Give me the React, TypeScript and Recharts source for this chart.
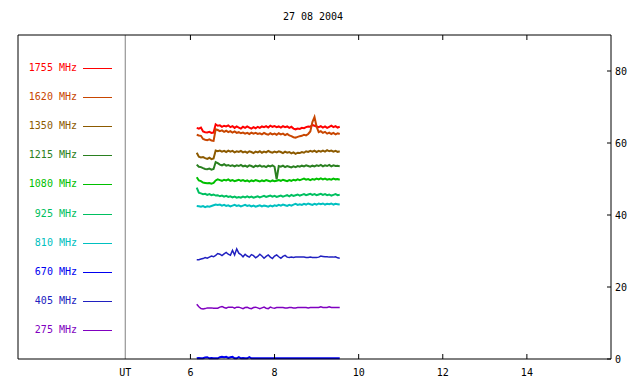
import React from "react";
import {
  LineChart,
  Line,
  XAxis,
  YAxis,
  ReferenceLine,
} from "recharts";

// UT hours of the samples
const times = [
  6.15, 6.2, 6.25, 6.3, 6.35, 6.4, 6.45, 6.5, 6.55, 6.6,
  6.65, 6.7, 6.75, 6.8, 6.85, 6.9, 6.95, 7.0, 7.05, 7.1,
  7.15, 7.2, 7.25, 7.3, 7.35, 7.4, 7.45, 7.5, 7.55, 7.6,
  7.65, 7.7, 7.75, 7.8, 7.85, 7.9, 7.95, 8.0, 8.05, 8.1,
  8.15, 8.2, 8.25, 8.3, 8.35, 8.4, 8.45, 8.5, 8.55, 8.6,
  8.65, 8.7, 8.75, 8.8, 8.85, 8.9, 8.95, 9.0, 9.05, 9.1,
  9.15, 9.2, 9.25, 9.3, 9.35, 9.4, 9.45, 9.5, 9.55,
];

const f1755 = [
  64.2, 64.0, 64.3, 63.2, 63.0, 62.9, 63.1, 62.8, 62.9, 65.2,
  64.8, 64.9, 64.5, 64.8, 64.6, 64.9, 64.4, 64.7, 64.2, 64.6,
  64.3, 64.0, 64.5, 64.2, 64.6, 64.3, 64.0, 64.4, 64.1, 64.5,
  64.2, 64.6, 64.4, 64.7, 64.3, 64.8, 64.5, 64.7, 64.4, 64.6,
  64.3, 64.7, 64.4, 64.6, 64.2, 64.5, 64.0, 63.8, 64.0, 63.9,
  64.2, 64.1, 64.4, 64.6, 64.5, 65.0, 64.8, 64.6, 64.4, 64.7,
  64.3, 64.6, 64.2, 64.5, 64.8, 64.4, 64.7, 64.3, 64.5,
];
const f1620 = [
  62.3, 62.1, 62.0, 61.1, 60.9, 60.8, 61.0, 60.7, 60.6, 63.8,
  63.6, 63.3, 63.5, 63.1, 63.4, 63.0, 63.3, 62.9, 63.2, 62.8,
  63.0, 62.7, 62.9, 62.6, 62.8, 62.5, 62.9, 62.6, 62.8, 62.5,
  62.7, 62.4, 62.8, 62.5, 62.3, 62.7, 62.4, 62.6, 62.3, 62.7,
  62.4, 62.6, 62.2, 62.5, 62.1, 61.9, 61.6, 61.5, 61.7, 61.9,
  62.0, 62.3, 62.1, 62.5, 63.2, 65.8, 67.2, 64.5, 63.0, 63.3,
  62.8, 63.1, 62.6, 62.9, 62.5, 62.8, 62.4, 62.7, 62.5,
];
const f1350 = [
  57.3, 56.2, 56.0, 56.1, 55.8, 55.6, 55.9, 55.5, 55.7, 57.9,
  57.7, 57.9, 57.6, 57.8, 57.5, 57.9, 57.6, 57.8, 57.4, 57.7,
  57.5, 57.8, 57.4, 57.6, 57.3, 57.7, 57.5, 57.2, 57.6, 57.4,
  57.7, 57.3, 57.6, 57.4, 57.8, 57.5, 57.3, 57.6, 57.4, 57.7,
  57.5, 57.2, 57.6, 57.3, 57.5, 57.1, 57.4, 57.0, 57.3, 57.2,
  57.5, 57.3, 57.7, 57.5, 57.8, 57.6, 57.9, 57.5, 57.8, 57.6,
  57.9, 57.6, 58.0, 57.7, 57.9, 57.6, 57.8, 57.5, 57.7,
];
const f1215 = [
  54.0, 53.4, 53.3, 53.0, 52.8, 52.7, 52.9, 52.6, 52.8, 54.7,
  54.4, 54.0, 53.8, 54.1, 53.7, 53.9, 53.6, 53.8, 53.5, 53.8,
  53.6, 53.9, 53.5, 53.7, 53.4, 53.8, 53.6, 53.3, 53.7, 53.5,
  53.8, 53.4, 53.6, 53.3, 53.7, 53.5, 53.8, 53.4, 49.9, 53.6,
  53.4, 53.7, 53.3, 53.6, 53.4, 53.2, 53.5, 53.3, 53.6, 53.4,
  53.7, 53.5, 53.8, 53.6, 53.4, 53.7, 53.5, 53.8, 53.6, 53.9,
  53.5, 53.8, 53.6, 53.9, 53.5, 53.8, 53.6, 53.7, 53.5,
];
const f1080 = [
  50.5, 49.6, 49.4, 49.0, 48.9, 48.8, 48.9, 48.7, 48.9, 49.6,
  49.9, 49.7, 49.5, 49.8, 49.6, 49.9, 49.5, 49.7, 49.4, 49.6,
  49.8, 49.5, 49.7, 49.4, 49.6, 49.3, 49.6, 49.4, 49.7, 49.5,
  49.3, 49.6, 49.4, 49.7, 49.5, 49.3, 49.6, 49.4, 49.5, 49.7,
  49.5, 49.8, 49.6, 49.4, 49.7, 49.5, 49.8, 49.6, 49.9, 49.7,
  49.9, 50.1, 49.8, 50.0, 49.7, 50.0, 49.8, 50.1, 49.9, 50.2,
  49.9, 50.1, 49.8, 50.0, 49.8, 50.1, 49.9, 50.0, 49.8,
];
const f925 = [
  47.6, 46.2, 46.0, 45.8, 45.9, 45.6, 45.8, 45.5, 45.7, 45.4,
  45.5, 45.2, 45.4, 45.1, 45.3, 45.0, 45.2, 44.9, 45.1, 44.8,
  45.0, 44.8, 45.1, 44.9, 45.2, 44.9, 45.1, 44.8, 45.0, 45.2,
  44.9, 45.1, 45.3, 45.0, 45.2, 45.4, 45.1, 45.3, 45.0, 45.2,
  45.4, 45.1, 45.3, 45.5, 45.2, 45.6, 45.3, 45.5, 45.7, 45.4,
  45.6, 45.8, 45.5, 45.7, 45.9, 45.6, 45.8, 45.5, 45.7, 45.9,
  45.6, 45.8, 45.5, 45.7, 45.4, 45.6, 45.8, 45.5, 45.6,
];
const f810 = [
  42.5, 42.4, 42.3, 42.5, 42.2, 42.4, 42.3, 42.5, 42.7, 42.9,
  42.8, 42.9, 42.6, 42.8, 42.5, 42.7, 42.4, 42.6, 42.8, 42.5,
  42.7, 42.4, 42.6, 42.8, 42.5, 42.7, 42.4, 42.6, 42.3, 42.5,
  42.7, 42.4, 42.6, 42.5, 42.3, 42.6, 42.4, 42.7, 42.5, 42.8,
  42.6, 42.9, 42.7, 42.5, 42.8, 42.6, 42.9, 43.1, 42.8, 43.0,
  42.8, 43.1, 42.9, 43.2, 43.0, 42.8, 43.1, 42.9, 43.2, 43.0,
  43.2, 42.9, 43.1, 43.0, 43.2, 42.9, 43.1, 43.0, 42.9,
];
const f670 = [
  0.2, 0.3, 0.2, 0.2, 0.4, 0.5, 0.2, 0.3, 0.2, 0.2,
  0.2, 0.5, 0.6, 0.5, 0.6, 0.3, 0.5, 0.6, 0.2, 0.2,
  0.5, 0.2, 0.3, 0.2, 0.2, 0.5, 0.2, 0.2, 0.2, 0.2,
  0.2, 0.2, 0.2, 0.2, 0.2, 0.2, 0.2, 0.2, 0.2, 0.2,
  0.2, 0.2, 0.2, 0.2, 0.2, 0.2, 0.2, 0.2, 0.2, 0.2,
  0.2, 0.2, 0.2, 0.2, 0.2, 0.2, 0.2, 0.2, 0.2, 0.2,
  0.2, 0.2, 0.2, 0.2, 0.2, 0.2, 0.2, 0.2, 0.2,
];
const f405 = [
  27.6, 27.6, 27.8, 27.9, 28.2, 28.0, 28.3, 28.6, 28.4, 28.8,
  29.3, 29.1, 28.7, 29.2, 29.6, 29.1, 28.8, 30.2, 28.9, 30.6,
  29.4, 29.0, 28.4, 29.1, 28.6, 28.3, 29.0, 28.7, 28.1, 28.5,
  29.1, 28.6, 28.0, 28.5, 28.9, 28.3, 27.9, 28.6, 28.9, 28.4,
  28.0, 28.5, 28.8, 28.3, 28.2, 28.3, 28.2, 28.3, 28.3, 28.3,
  28.3, 28.3, 28.2, 28.2, 28.3, 28.2, 28.2, 28.2, 28.3, 28.6,
  28.5, 28.4, 28.4, 28.3, 28.3, 28.3, 28.4, 28.1, 28.0,
];
const f275 = [
  15.2, 14.5, 14.0, 13.9, 14.0, 14.2, 14.2, 14.2, 14.1, 14.1,
  14.1, 14.4, 14.6, 14.3, 14.1, 14.4, 14.4, 14.4, 14.1, 14.4,
  14.4, 14.2, 14.0, 14.3, 14.4, 14.1, 14.0, 14.3, 14.4, 14.2,
  14.0, 14.2, 14.4, 14.1, 14.0, 14.4, 14.2, 14.1, 14.3, 14.3,
  14.3, 14.3, 14.2, 14.2, 14.3, 14.3, 14.2, 14.2, 14.3, 14.3,
  14.3, 14.3, 14.3, 14.2, 14.3, 14.3, 14.3, 14.3, 14.3, 14.5,
  14.3, 14.3, 14.3, 14.5, 14.3, 14.3, 14.3, 14.3, 14.3,
];

const bands = [
  { key: "f1755", label: "1755 MHz", color: "#ff0000", values: f1755, width: 2 },
  { key: "f1620", label: "1620 MHz", color: "#c84600", values: f1620, width: 2 },
  { key: "f1350", label: "1350 MHz", color: "#8c5a00", values: f1350, width: 2 },
  { key: "f1215", label: "1215 MHz", color: "#2a8020", values: f1215, width: 2 },
  { key: "f1080", label: "1080 MHz", color: "#00c000", values: f1080, width: 2 },
  { key: "f925", label: "925 MHz", color: "#00c060", values: f925, width: 2 },
  { key: "f810", label: "810 MHz", color: "#00c0c0", values: f810, width: 2 },
  { key: "f670", label: "670 MHz", color: "#0000f0", values: f670, width: 2 },
  { key: "f405", label: "405 MHz", color: "#2020c0", values: f405, width: 1.5 },
  { key: "f275", label: "275 MHz", color: "#8000c0", values: f275, width: 1.5 },
];

const xTicks = [6, 8, 10, 12, 14];
const yTicks = [0, 20, 40, 60, 80];
const UT_POS = 4.45;

const data = times.map((t, i) => {
  const row: Record<string, number> = { t };
  bands.forEach((b) => {
    row[b.key] = b.values[i];
  });
  return row;
});

const FONT = "'DejaVu Sans Mono', monospace";

const BottomTick = (props: any) => {
  const { x, y, payload } = props;
  const isUT = payload.value === UT_POS;
  return (
    <g>
      {!isUT && <line x1={x} x2={x} y1={y} y2={y - 5} stroke="#000" />}
      <text x={x} y={y + 17} textAnchor="middle" fontSize={10} fontFamily={FONT} fill="#000">
        {isUT ? "UT" : payload.value}
      </text>
    </g>
  );
};

const TopTick = (props: any) => {
  const { x, y } = props;
  return <line x1={x} x2={x} y1={y} y2={y + 5} stroke="#000" />;
};

const RightTick = (props: any) => {
  const { x, y, payload } = props;
  return (
    <g>
      <line x1={x} x2={x - 4} y1={y} y2={y} stroke="#000" />
      <text x={x + 4} y={y + 4} fontSize={10} fontFamily={FONT} fill="#000">
        {payload.value}
      </text>
    </g>
  );
};

export default function App() {
  return (
    <div style={{ position: "absolute", left: 0, top: 0, width: 640, height: 384, background: "#fff" }}>
      <div
        style={{
          position: "absolute",
          left: 0,
          top: 11,
          width: 626,
          textAlign: "center",
          fontFamily: FONT,
          fontSize: 10,
          color: "#000",
        }}
      >
        27 08 2004
      </div>
      <LineChart
        width={640}
        height={384}
        data={data}
        margin={{ top: 34, right: 0, bottom: 0, left: 17 }}
      >
        <XAxis
          dataKey="t"
          type="number"
          domain={[1.9, 16]}
          allowDataOverflow
          ticks={[UT_POS, ...xTicks]}
          interval={0}
          height={25}
          tickSize={0}
          tickMargin={0}
          tickLine={false}
          tick={<BottomTick />}
          axisLine={{ stroke: "#000" }}
        />
        <XAxis
          xAxisId="top"
          orientation="top"
          dataKey="t"
          type="number"
          domain={[1.9, 16]}
          allowDataOverflow
          ticks={xTicks}
          interval={0}
          height={1}
          tickSize={0}
          tickMargin={0}
          tickLine={false}
          tick={<TopTick />}
          axisLine={{ stroke: "#000" }}
        />
        <YAxis
          orientation="right"
          type="number"
          domain={[0, 90]}
          ticks={yTicks}
          interval={0}
          width={29}
          tickSize={0}
          tickMargin={0}
          tickLine={false}
          tick={<RightTick />}
          axisLine={{ stroke: "#000" }}
        />
        <YAxis
          yAxisId="left"
          orientation="left"
          type="number"
          domain={[0, 90]}
          width={1}
          tick={false}
          tickLine={false}
          axisLine={{ stroke: "#000" }}
        />
        <ReferenceLine x={UT_POS} stroke="#808080" />
        {bands.map((b) => (
          <Line
            key={b.key}
            dataKey={b.key}
            stroke={b.color}
            strokeWidth={b.width}
            dot={false}
            type="linear"
            isAnimationActive={false}
          />
        ))}
      </LineChart>
      {bands.map((b, i) => {
        const cy = 67.5 + i * 29.2;
        return (
          <React.Fragment key={b.key}>
            <div
              style={{
                position: "absolute",
                left: 0,
                width: 77,
                top: cy - 7,
                textAlign: "right",
                fontFamily: FONT,
                fontSize: 10,
                lineHeight: "13px",
                color: b.color,
                whiteSpace: "nowrap",
              }}
            >
              {b.label}
            </div>
            <div
              style={{
                position: "absolute",
                left: 83,
                width: 29,
                top: cy,
                height: 1,
                background: b.color,
              }}
            />
          </React.Fragment>
        );
      })}
    </div>
  );
}
